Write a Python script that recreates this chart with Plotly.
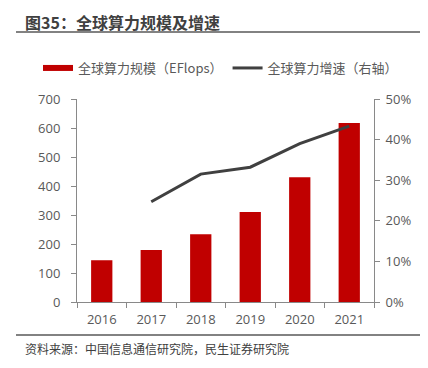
import plotly.graph_objects as go

years = ["2016", "2017", "2018", "2019", "2020", "2021"]
scale = [144, 179, 234, 310, 430, 617]          # EFlops
growth_years = ["2017", "2018", "2019", "2020", "2021"]
growth = [0.247, 0.315, 0.332, 0.390, 0.433]    # growth rate

left_ticks = [0, 100, 200, 300, 400, 500, 600, 700]
right_ticks = [0, 0.1, 0.2, 0.3, 0.4, 0.5]

FONT = "Open Sans, Noto Sans CJK SC, sans-serif"
CJK = "Noto Sans CJK SC, sans-serif"
GRAY = "#595959"
AXIS = "#898989"
RED = "#C00000"

fig = go.Figure()
fig.add_trace(go.Bar(
    x=years, y=scale, name="全球算力规模（EFlops）", showlegend=False,
    marker=dict(color=RED, line=dict(width=0)), width=0.43,
))
# legend entry for the bars, drawn as a wide swatch like the original
fig.add_trace(go.Scatter(
    x=[None], y=[None], name="全球算力规模（EFlops）", mode="lines",
    line=dict(color=RED, width=6), hoverinfo="skip",
))
fig.add_trace(go.Scatter(
    x=growth_years, y=growth, name="全球算力增速（右轴）", yaxis="y2",
    mode="lines", line=dict(color="#404040", width=3),
))

# the page body has an 8px margin, so figure coords = page coords - 8
OFF = 8
W, H = 428 - OFF, 368 - OFF
L, R, T, B = 77 - OFF, 374 - OFF, 99 - OFF, 302 - OFF
def px(x):  # x in page pixels -> paper
    return (x - OFF - L) / (R - L)
def py(y):
    return (B - (y - OFF)) / (B - T)

fig.update_layout(
    width=W, height=H,
    margin=dict(l=L, r=W - R, t=T, b=H - B, autoexpand=False),
    paper_bgcolor="white", plot_bgcolor="white",
    font=dict(family=FONT, size=13, color=GRAY),
    showlegend=True,
    legend=dict(orientation="h", x=px(38), y=py(68), xanchor="left", yanchor="middle",
                font=dict(family=CJK, size=13, color=GRAY), bgcolor="rgba(0,0,0,0)",
                itemwidth=30, traceorder="normal"),
    xaxis=dict(type="category", showline=True, linecolor=AXIS, linewidth=1,
               ticks="outside", tickson="boundaries", ticklen=5, tickcolor=AXIS,
               ticklabelstandoff=5,
               tickfont=dict(size=13, color=GRAY), showgrid=False, zeroline=False),
    yaxis=dict(range=[0, 700], tickvals=left_ticks, showline=True, linecolor=AXIS,
               ticks="outside", ticklen=5, tickcolor=AXIS, showgrid=False, zeroline=False,
               ticklabelstandoff=8,
               tickfont=dict(size=13, color=GRAY)),
    yaxis2=dict(range=[0, 0.5], tickvals=right_ticks, tickformat=".0%", overlaying="y",
                side="right", showline=True, linecolor=AXIS, ticks="outside", ticklen=5,
                tickcolor=AXIS, showgrid=False, zeroline=False, ticklabelstandoff=3,
                tickfont=dict(size=13, color=GRAY)),
    shapes=[
        dict(type="line", xref="paper", yref="paper", x0=px(16), x1=px(423),
             y0=py(32), y1=py(32), line=dict(color="#595959", width=1.5)),
        dict(type="line", xref="paper", yref="paper", x0=px(16), x1=px(423),
             y0=py(335), y1=py(335), line=dict(color="#595959", width=1.5)),
    ],
    annotations=[
        dict(text="<b>图35：全球算力规模及增速</b>", xref="paper", yref="paper",
             x=px(23), y=py(22), xanchor="left", yanchor="middle", showarrow=False,
             font=dict(family=CJK, size=16, color="#404040")),
        dict(text="资料来源：中国信息通信研究院，民生证券研究院", xref="paper", yref="paper",
             x=px(23), y=py(348), xanchor="left", yanchor="middle", showarrow=False,
             font=dict(family=CJK, size=12, color="#404040")),
    ],
)

fig.write_html("out.html")
